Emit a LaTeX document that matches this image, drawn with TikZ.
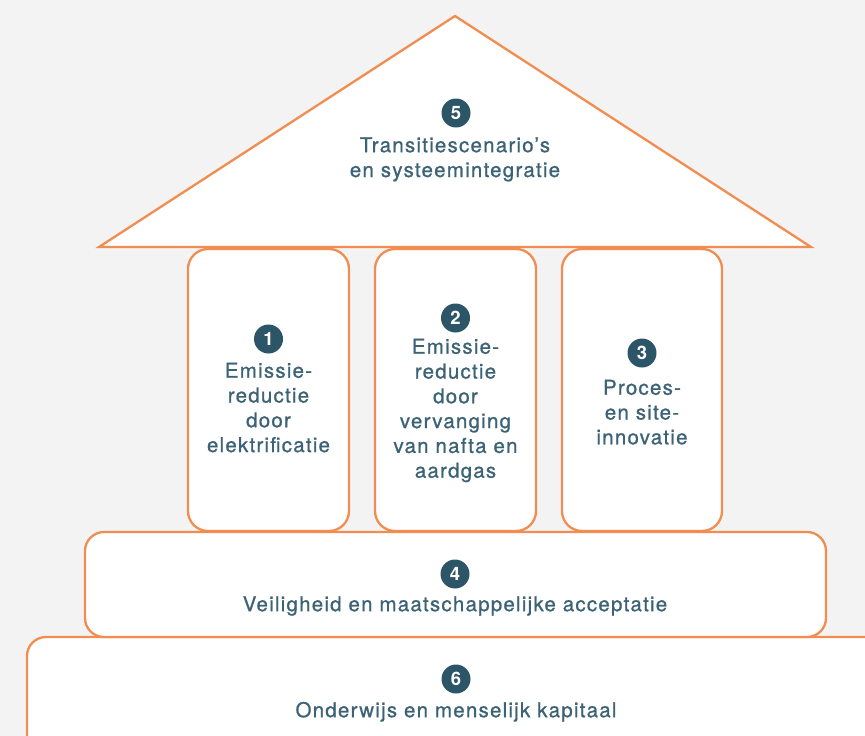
\documentclass[tikz,border=0pt]{standalone}
\usepackage{fontspec}
\setmainfont{TeX Gyre Heros}
\newfontfamily\lblfont{TeX Gyre Heros}[LetterSpace=6, FakeBold=0.8]
\definecolor{bgc}{HTML}{F3F3F3}
\definecolor{orangeline}{HTML}{F18D50}
\definecolor{txtc}{HTML}{3B6275}
\definecolor{numc}{HTML}{2D5568}
\newcommand{\firstln}{\rule{0pt}{16pt}}
\begin{document}
\begin{tikzpicture}[x=1pt,y=-1pt,
  shapebox/.style={draw=orangeline, line width=2.3pt, fill=white, rounded corners=19pt, inner sep=0pt},
  numc/.style={circle, fill=numc, text=white, minimum size=29pt, inner sep=0pt,
    font=\fontsize{18.5}{18.5}\selectfont\bfseries},
  lbl/.style={text=txtc, align=center, inner sep=0pt, anchor=north,
    font=\lblfont\fontsize{20.5}{24.8}\selectfont}]
\useasboundingbox[fill=bgc] (0,0) rectangle (865,736);
\clip (0,0) rectangle (865,736);
% base boxes
\node[shapebox, minimum width=873pt, minimum height=163pt] (b6) at (463.5,718.5) {};
\node[shapebox, minimum width=741pt, minimum height=105pt] (b4) at (455.5,584.5) {};
% pillars
\node[shapebox, rounded corners=20pt, minimum width=161pt, minimum height=282pt] (p1) at (268.5,390) {};
\node[shapebox, rounded corners=20pt, minimum width=161pt, minimum height=282pt] (p2) at (455.5,390) {};
\node[shapebox, rounded corners=20pt, minimum width=160pt, minimum height=282pt] (p3) at (642,390) {};
% roof
\coordinate (apex) at (455,16);
\coordinate (rr) at (811,247);
\coordinate (rl) at (99,247);
\draw[draw=orangeline, line width=2.3pt, fill=white, line join=miter] (apex) -- (rr) -- (rl) -- cycle;
% labels
\node[numc] (n5) at (456,113) {5};
\node[lbl] (t5) at (455,136) {\firstln Transitiescenario’s\\en systeemintegratie};
\node[numc] (n1) at (268.5,339) {1};
\node[lbl] (t1) at (268.5,361.5) {\firstln Emissie-\\reductie\\door\\elektrificatie};
\node[numc] (n2) at (455.5,318) {2};
\node[lbl] (t2) at (455.5,337.5) {\firstln Emissie-\\reductie\\door\\vervanging\\van nafta en\\aardgas};
\node[numc] (n3) at (642,353) {3};
\node[lbl] (t3) at (642,378.5) {\firstln Proces-\\en site-\\innovatie};
\node[numc] (n4) at (455,574) {4};
\node[lbl] (t4) at (455,595) {\firstln Veiligheid en maatschappelijke acceptatie};
\node[numc] (n6) at (456,679) {6};
\node[lbl] (t6) at (456,701) {\firstln Onderwijs en menselijk kapitaal};
\end{tikzpicture}
\end{document}
